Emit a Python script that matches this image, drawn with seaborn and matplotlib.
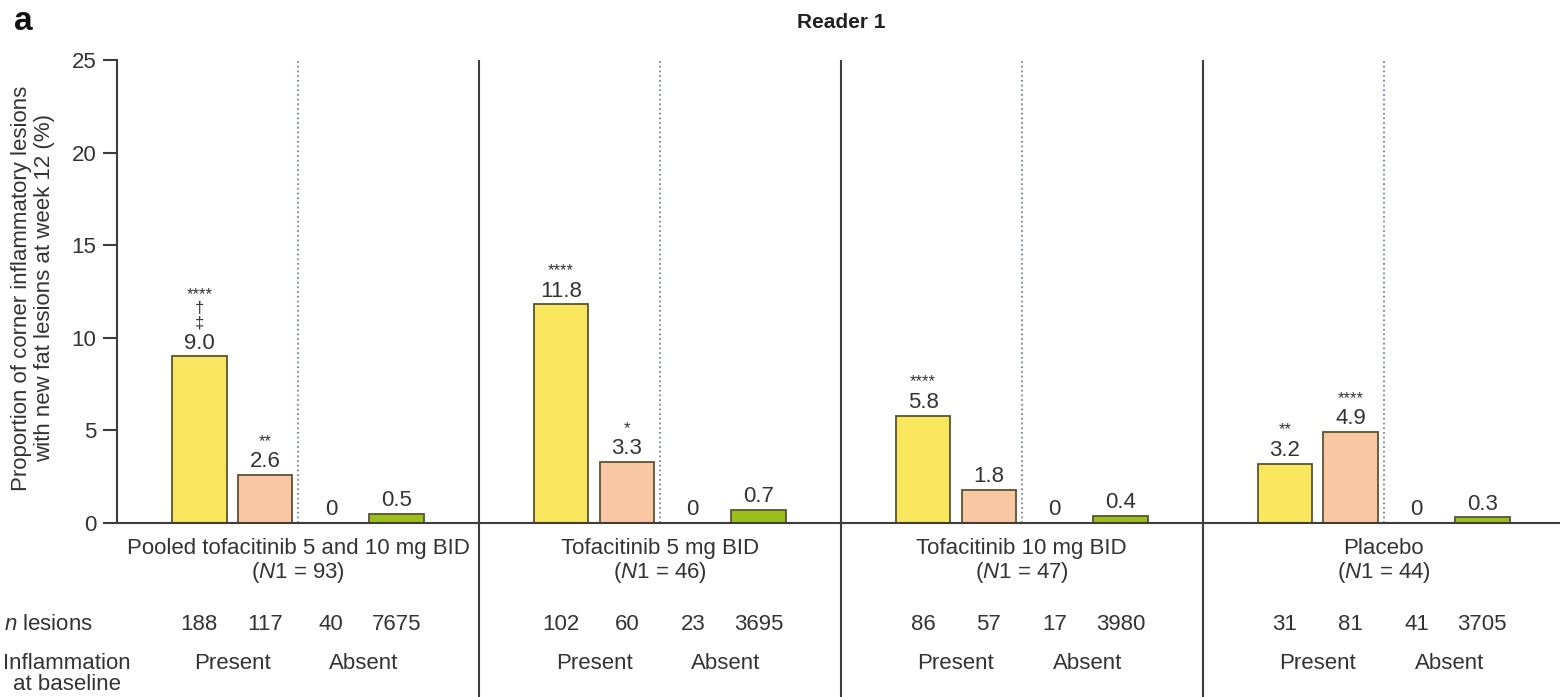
import numpy as np
import pandas as pd
import matplotlib
matplotlib.use("Agg")
import matplotlib.pyplot as plt
import seaborn as sns
from matplotlib import transforms

# ---------------- data ----------------
groups = ["Pooled tofacitinib 5 and 10 mg BID", "Tofacitinib 5 mg BID",
          "Tofacitinib 10 mg BID", "Placebo"]
group_n1 = [93, 46, 47, 44]
bar_kinds = ["Present-1", "Present-2", "Absent-1", "Absent-2"]
baseline_labels = ["Present", "Absent"]

pooled_vals = [9.0, 2.6, 0, 0.5]
tofa5_vals = [11.8, 3.3, 0, 0.7]
tofa10_vals = [5.8, 1.8, 0, 0.4]
placebo_vals = [3.2, 4.9, 0, 0.3]

pooled_n = [188, 117, 40, 7675]
tofa5_n = [102, 60, 23, 3695]
tofa10_n = [86, 57, 17, 3980]
placebo_n = [31, 81, 41, 3705]

# significance markers, listed top to bottom
pooled_sig = [["****", "\u2020", "\u2021"], ["**"], [], []]
tofa5_sig = [["****"], ["*"], [], []]
tofa10_sig = [["****"], [], [], []]
placebo_sig = [["**"], ["****"], [], []]

yticks = [0, 5, 10, 15, 20, 25]
ylabel = "Proportion of corner inflammatory lesions\nwith new fat lesions at week 12 (%)"
title = "Reader 1"
panel = "a"

all_vals = [pooled_vals, tofa5_vals, tofa10_vals, placebo_vals]
all_n = [pooled_n, tofa5_n, tofa10_n, placebo_n]
all_sig = [pooled_sig, tofa5_sig, tofa10_sig, placebo_sig]

# ---------------- style ----------------
sns.set_style("ticks")
plt.rcParams["font.family"] = ["Liberation Sans", "DejaVu Sans"]
plt.rcParams["mathtext.fontset"] = "custom"
plt.rcParams["mathtext.rm"] = "Liberation Sans"
plt.rcParams["mathtext.it"] = "Liberation Sans:italic"

TXT = "#333333"
LINE = "#3d3d3d"
colors = ["#F8E65E", "#F9C8A3", "#DDDDDD", "#9DBF1E"]
edge = "#5A5434"

GW = 5.5                       # group width in axis units
slots = [1.25, 2.25, 3.25, 4.25]

rows = []
for g, vals in enumerate(all_vals):
    for k, v in enumerate(vals):
        rows.append({"pos": g * GW + slots[k], "value": v, "kind": bar_kinds[k]})
df = pd.DataFrame(rows)

fig = plt.figure(figsize=(15.6, 6.97), dpi=100)
ax = fig.add_axes([117 / 1560, 174 / 697, 1443 / 1560, 463 / 697])

sns.barplot(data=df, x="pos", y="value", hue="kind", hue_order=bar_kinds,
            palette=dict(zip(bar_kinds, colors)), native_scale=True, dodge=False,
            width=0.83, edgecolor=edge, linewidth=1.3, errorbar=None,
            saturation=1, legend=False, ax=ax)

ax.set_xlim(0, 21.93)
ax.set_ylim(0, 25)
ax.set_yticks(yticks)
ax.set_yticklabels([str(t) for t in yticks], fontsize=16, color=TXT)
ax.set_xticks([])
ax.set_xlabel("")
ax.set_ylabel("")
ax.tick_params(axis="y", length=10, width=1.5, color=LINE, pad=5)
for s in ["top", "right"]:
    ax.spines[s].set_visible(False)
for s in ["left", "bottom"]:
    ax.spines[s].set_color(LINE)
    ax.spines[s].set_linewidth(1.5)

# separators
ax.vlines([GW * i for i in range(1, 4)], -9.6, 25, colors=LINE, linewidth=1.5,
          clip_on=False, zorder=3)
ax.vlines([GW * i + 2.75 for i in range(4)], 0, 25, colors="#7A859E",
          linewidth=1.3, linestyles=(0, (1, 1.6)), zorder=1)

# value labels and significance markers
for g, vals in enumerate(all_vals):
    for k, v in enumerate(vals):
        x = g * GW + slots[k]
        lab = "0" if v == 0 else f"{v:.1f}"
        ax.annotate(lab, (x, v), xytext=(0, 2), textcoords="offset points",
                    ha="center", va="bottom", fontsize=16, color=TXT)
        for i, m in enumerate(reversed(all_sig[g][k])):
            ax.annotate(m, (x, v), xytext=(0, 21 + 10 * i), textcoords="offset points",
                        ha="center", va="baseline", fontsize=12, color=TXT)

# group labels and table below
for g in range(4):
    cx = g * GW + GW / 2
    ax.text(cx, -1.35, groups[g], ha="center", va="center", fontsize=16,
            color=TXT, clip_on=False)
    ax.text(cx, -2.65, "(" + r"$\mathit{N1}$" + f" = {group_n1[g]})", ha="center",
            va="center", fontsize=16, color=TXT, clip_on=False)
    for k in range(4):
        ax.text(g * GW + slots[k], -5.5, str(all_n[g][k]), ha="center", va="center",
                fontsize=16, color=TXT, clip_on=False)
    ax.text(g * GW + 1.75, -7.56, baseline_labels[0], ha="center", va="center",
            fontsize=16, color=TXT, clip_on=False)
    ax.text(g * GW + 3.75, -7.56, baseline_labels[1], ha="center", va="center",
            fontsize=16, color=TXT, clip_on=False)

blend = transforms.blended_transform_factory(fig.transFigure, ax.transData)
ax.text(4 / 1560, -5.5, r"$\mathit{n}$ lesions", transform=blend, ha="left",
        va="center", fontsize=16, color=TXT, clip_on=False)
ax.text(67 / 1560, -8.15, "Inflammation\nat baseline", transform=blend, ha="center",
        va="center", multialignment="center", fontsize=16, color=TXT,
        linespacing=1.05, clip_on=False)

fig.text(33 / 1560, 1 - 288 / 697, ylabel, rotation=90, ha="center", va="center",
         multialignment="center", fontsize=16, color=TXT, linespacing=1.1)
fig.text(841 / 1560, 1 - 23 / 697, title, ha="center", va="center", fontsize=15,
         fontweight="bold", color="#222222")
fig.text(14 / 1560, 1 - 22 / 697, panel, ha="left", va="center", fontsize=24,
         fontweight="bold", color="#111111")

fig.savefig("out.png", dpi=100)
